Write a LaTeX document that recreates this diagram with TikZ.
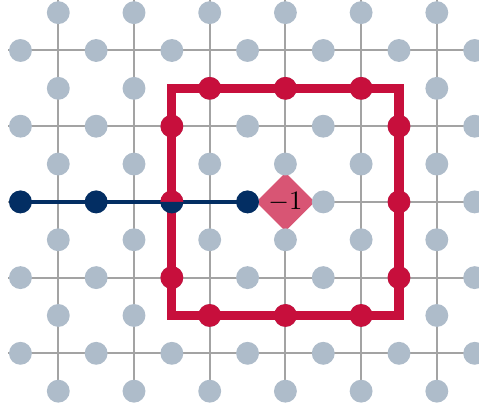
\documentclass[tikz,border=0pt]{standalone}
\usepackage{amsmath}
\usetikzlibrary{calc, positioning}
\usetikzlibrary{shapes.geometric}

\definecolor{gridgray}{HTML}{A3A3A3}
\definecolor{dotgray}{HTML}{AEBCCA}
\definecolor{loopred}{HTML}{C70F3C}
\definecolor{pathblue}{HTML}{032E63}
\definecolor{diampink}{HTML}{D85574}

\begin{document}
\begin{tikzpicture}[
    spin/.style={circle, fill=dotgray, inner sep=0pt, minimum size=8.6pt},
    redspin/.style={spin, fill=loopred},
    bluespin/.style={spin, fill=pathblue}]
\def\rad{0.152}
\def\gridW{0.75pt}
\def\loopW{3.4pt}
\def\pathW{1.5pt}

\useasboundingbox (-0.770,-0.709) rectangle (5.557,4.667);
\clip (-0.770,-0.709) rectangle (5.557,4.667);

% lattice
\foreach \j in {0,...,4}
    \draw[gridgray, line width=\gridW] (-0.66,\j) -- (5.9,\j);
\foreach \i in {0,...,5}
    \draw[gridgray, line width=\gridW] (\i,-0.62) -- (\i,4.9);

% plaquette
\node[diamond, fill=diampink, minimum size=0.78cm, inner sep=0pt] (plaq) at (3,2) {$-1$};

% spins on the edges
\foreach \i in {-1,...,5}
    \foreach \j in {0,...,4}
        \node[spin] (h-\i-\j) at (\i+0.5,\j) {};
\foreach \i in {0,...,5}
    \foreach \j in {-1,...,4}
        \node[spin] (v-\i-\j) at (\i,\j+0.5) {};

% loop
\coordinate (sqSW) at (1.5,0.5);
\coordinate (sqNE) at (4.5,3.5);
\draw[loopred, line width=\loopW] (sqSW) rectangle (sqNE);

% string
\coordinate (b0) at (-0.5,2);
\coordinate (b1) at (0.5,2);
\coordinate (b2) at (1.5,2);
\coordinate (b3) at (2.5,2);
\draw[pathblue, line width=\pathW] (b0) -- (b3);

\foreach \x in {2,3,4} {
    \node[redspin] (rt-\x) at (\x,3.5) {};
    \node[redspin] (rb-\x) at (\x,0.5) {};
}
\foreach \y in {1,3} \node[redspin] (rl-\y) at (1.5,\y) {};
\foreach \y in {1,2,3} \node[redspin] (rr-\y) at (4.5,\y) {};

\node[bluespin] (s0) at (b0) {};
\node[bluespin] (s1) at (b1) {};
\node[bluespin] (s3) at (b3) {};

% shared spin
\fill[loopred] ($(b2)+(\rad,0)$) arc (0:180:\rad) -- cycle;
\fill[pathblue] ($(b2)+(-\rad,0)$) arc (180:360:\rad) -- cycle;
\end{tikzpicture}
\end{document}
